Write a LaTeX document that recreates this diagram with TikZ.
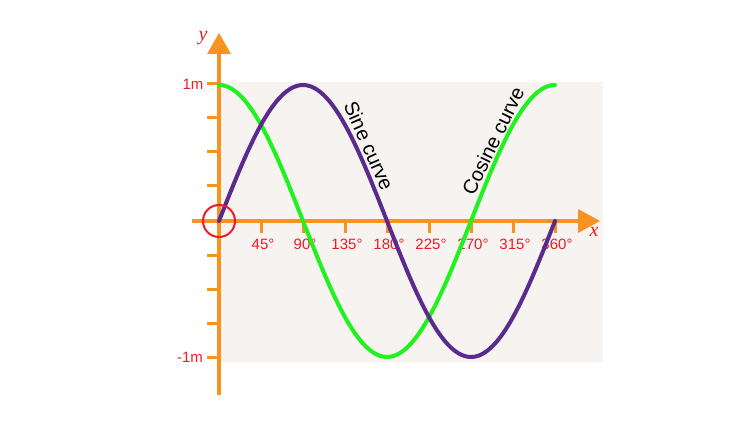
\documentclass[tikz,border=0pt]{standalone}
\usepackage{fontspec}
\setmainfont{Liberation Sans}
\definecolor{ax}{HTML}{F7931E}
\definecolor{bgc}{HTML}{F6F3F0}
\definecolor{sinec}{HTML}{5B2A8E}
\definecolor{cosc}{HTML}{1FF21F}
\definecolor{lab}{HTML}{EE1C25}
\begin{document}
\begin{tikzpicture}[x=1pt,y=-1pt,
  tick/.style={ax,line width=3pt},
  deg/.style={text=lab,font=\fontsize{15}{17}\selectfont},
  curve/.style={line width=4pt,line cap=round}]
\useasboundingbox (0,0) rectangle (750,425);
\fill[bgc] (219,82) rectangle (603,362);
% ticks
\foreach \y in {84,118,152,186,255,289,323,357}{\draw[tick] (207,\y) -- (219,\y);}
\foreach \i/\l in {1/45,2/90,3/135,4/180,5/225,6/270,7/315,8/360}{
  \draw[tick] ({219+\i*42},221) -- ({219+\i*42},233);
  \node[deg] (d\i) at ({221+\i*42},244) {\l°};}
% axes
\coordinate (xs) at (192,221); \coordinate (xe) at (582,221);
\coordinate (ys) at (219,395); \coordinate (ye) at (219,52);
\draw[ax,line width=4pt] (xs) -- (xe);
\draw[ax,line width=4pt] (ys) -- (ye);
\fill[ax] (600,221) -- (578,209) -- (578,233) -- cycle;
\fill[ax] (219,33) -- (207,54) -- (231,54) -- cycle;
\node[text=lab,font=\fontsize{20}{22}\selectfont] (yl) at (203,38) {\fontspec{Liberation Serif}\itshape y};
\node[text=lab,font=\fontsize{20}{22}\selectfont] (xl) at (594,232) {\fontspec{Liberation Serif}\itshape x};
\node[deg] (one) at (193,84) {1m};
\node[deg] (mone) at (190,357) {-1m};
% curves
\draw[cosc,curve] plot[domain=0:360,samples=120,smooth] ({219+\x*0.93333},{221-136*cos(\x)});
\draw[sinec,curve] plot[domain=0:360,samples=120,smooth] ({219+\x*0.93333},{221-136*sin(\x)});
\node[rotate=-66,font=\fontsize{20}{22}\selectfont] (st) at (369,146) {Sine curve};
\node[rotate=64,font=\fontsize{20}{22}\selectfont] (ct) at (493,141) {Cosine curve};
\node[draw=lab,line width=2pt,circle,minimum size=32pt,inner sep=0pt] (o) at (219,221) {};
\end{tikzpicture}
\end{document}
